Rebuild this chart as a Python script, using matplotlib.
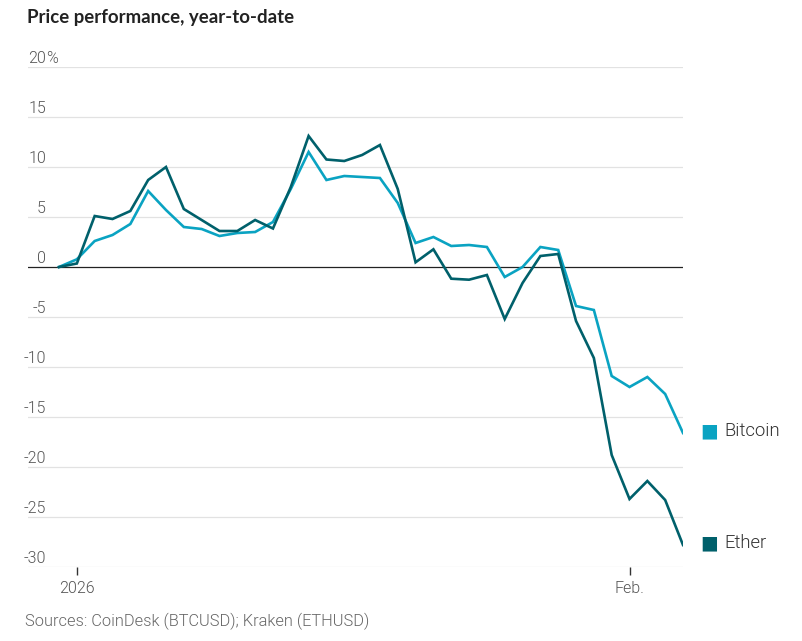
import matplotlib
matplotlib.use("Agg")
import matplotlib.pyplot as plt
import matplotlib.dates as mdates
import matplotlib.transforms as mtransforms
import pandas as pd
import numpy as np

# ---- data ----
dates = pd.date_range("2025-12-31", "2026-02-04", freq="D")
bitcoin = [0, 0.77, 2.6, 3.2, 4.3, 7.6, 5.7, 4.0, 3.8, 3.1, 3.4, 3.5, 4.5, 7.8,
           11.5, 8.7, 9.1, 9.0, 8.9, 6.4, 2.4, 3.0, 2.1, 2.2, 2.0, -1.0, 0.0,
           2.0, 1.7, -3.9, -4.3, -10.9, -12.0, -11.0, -12.7, -16.6]
ether = [0, 0.35, 5.1, 4.8, 5.6, 8.7, 10.0, 5.8, 4.7, 3.6, 3.6, 4.7, 3.85, 8.0,
         13.1, 10.75, 10.6, 11.2, 12.2, 7.8, 0.47, 1.77, -1.17, -1.27, -0.8,
         -5.2, -1.6, 1.1, 1.3, -5.4, -9.1, -18.8, -23.2, -21.4, -23.3, -27.8]
series_names = ["Bitcoin", "Ether"]
y_ticks = [20, 15, 10, 5, 0, -5, -10, -15, -20, -25, -30]
x_tick_dates = [pd.Timestamp("2026-01-01"), pd.Timestamp("2026-02-01")]
x_tick_labels = ["2026", "Feb."]
title = "Price performance, year-to-date"
source = "Sources: CoinDesk (BTCUSD); Kraken (ETHUSD)"

# ---- style ----
c_btc = "#0aa3c2"
c_eth = "#00606b"
grid_c = "#e2e2e2"
text_c = "#333333"
tick_c = "#555555"
narrow = ["Liberation Sans Narrow", "Roboto", "DejaVu Sans"]

fig = plt.figure(figsize=(8.03, 6.41), dpi=100)
ax = fig.add_axes([28 / 803, (641 - 567) / 641, (683 - 28) / 803, 500 / 641])

ax.plot(dates, bitcoin, color=c_btc, lw=1.9, solid_joinstyle="miter", zorder=3)
ax.plot(dates, ether, color=c_eth, lw=1.9, solid_joinstyle="miter", zorder=4)

x0 = mdates.date2num(dates[0]) - 1.74
x1 = mdates.date2num(dates[-1])
ax.set_xlim(x0, x1)
ax.set_ylim(-30, 20)

for v in y_ticks:
    if v == 0:
        ax.axhline(0, color="#222222", lw=0.9, zorder=2)
    else:
        ax.axhline(v, color=grid_c, lw=0.9, zorder=1)

# y labels (right-aligned numbers, % hangs)
lab_tr = mtransforms.offset_copy(
    mtransforms.blended_transform_factory(ax.transAxes, ax.transData),
    fig=fig, x=18 * 72 / 100, y=1 * 72 / 100, units="points")
for v in y_ticks:
    ax.text(0, v, f"{v}", transform=lab_tr, ha="right", va="bottom",
            fontsize=11.5, color=tick_c, family=narrow, fontweight=300)
    if v == y_ticks[0]:
        ax.text(0, v, "%", transform=lab_tr, ha="left", va="bottom",
                fontsize=11.5, color=tick_c, family=narrow, fontweight=300)

for s in ax.spines.values():
    s.set_visible(False)
ax.set_yticks([])
ax.set_xticks([mdates.date2num(d) for d in x_tick_dates])
ax.set_xticklabels(x_tick_labels, family=narrow, fontsize=11.5, color=tick_c,
                   fontweight=300)
ax.tick_params(axis="x", length=6, width=1, color="#333333", pad=4)

# end labels
for name, vals, col in zip(series_names, [bitcoin, ether], [c_btc, c_eth]):
    ax.annotate("\u25A0", xy=(x1, vals[-1]), xytext=(17 * 0.72, 2 * 0.72),
                textcoords="offset points", ha="left", va="center",
                fontsize=13.5, color=col, annotation_clip=False,
                family=["DejaVu Sans"])
    ax.annotate(name, xy=(x1, vals[-1]), xytext=(41 * 0.72, 2 * 0.72),
                textcoords="offset points", ha="left", va="center",
                fontsize=13.3, color=text_c, annotation_clip=False,
                family=["Roboto", "DejaVu Sans"], fontweight=300)

fig.text(27 / 803, 1 - 18 / 641, title, ha="left", va="center",
         fontsize=13.4, fontweight="bold", color="#222222",
         family=["Lato", "DejaVu Sans"])
fig.text(25 / 803, 1 - 621 / 641, source, ha="left", va="center",
         fontsize=11.8, color="#666666", family=narrow, fontweight=300)

fig.savefig("out.png", dpi=100)
